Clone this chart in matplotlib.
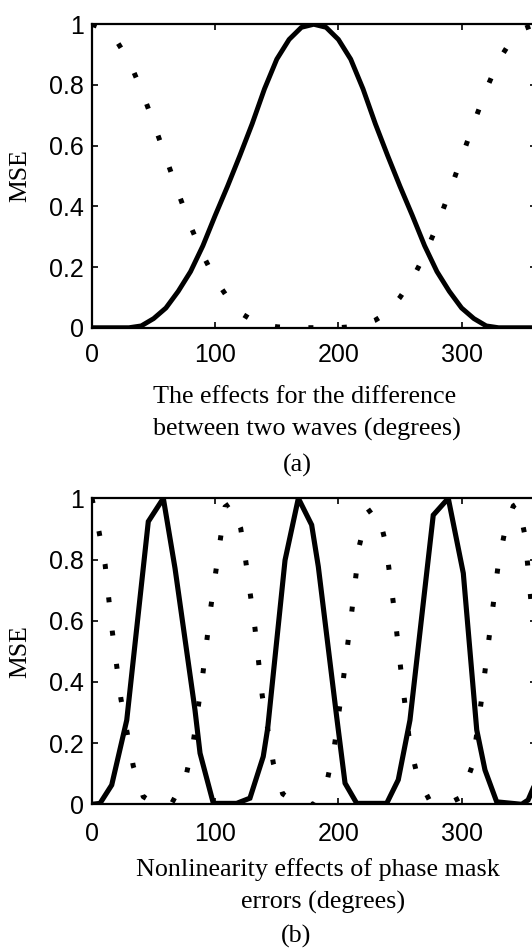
import matplotlib.pyplot as plt
from matplotlib.ticker import FixedLocator, FuncFormatter

# panel (a): difference between two waves, sampled every 10 degrees
deg_a = list(range(0, 361, 10))
solid_a = [0, 0, 0, 0, 0.006, 0.03, 0.065, 0.12, 0.185, 0.27, 0.37, 0.466, 0.567,
           0.672, 0.787, 0.885, 0.95, 0.99, 1.0, 0.99, 0.95, 0.885, 0.787, 0.672,
           0.567, 0.466, 0.37, 0.27, 0.185, 0.12, 0.065, 0.03, 0.006, 0, 0, 0, 0]
dotted_a = [1.0, 0.985, 0.945, 0.88, 0.785, 0.675, 0.56, 0.445, 0.335, 0.24, 0.16,
            0.10, 0.05, 0.025, 0.01, 0.003, 0, 0, 0, 0, 0, 0.003, 0.01, 0.025, 0.05,
            0.10, 0.16, 0.24, 0.335, 0.445, 0.56, 0.675, 0.785, 0.88, 0.945, 0.985, 1.0]

# panel (b): phase mask errors
deg_b_solid = [0, 6.5, 16, 28.2, 45.7, 57.9, 67.4, 83.6, 87.7, 98.5, 117.4, 128.2,
               139, 142.6, 156.7, 167.5, 178.3, 183.7, 198.6, 205.4, 214.9, 239.2,
               248.6, 258.1, 277, 289.2, 301.4, 312.3, 319, 328.5, 348.8, 354, 360]
solid_b = [0, 0.003, 0.063, 0.275, 0.924, 1.0, 0.771, 0.308, 0.167, 0.003, 0.003,
           0.02, 0.156, 0.248, 0.798, 1.0, 0.913, 0.777, 0.286, 0.069, 0.003, 0.003,
           0.08, 0.275, 0.945, 1.0, 0.755, 0.243, 0.112, 0.008, 0, 0.014, 0.07]
deg_b_dot = [0, 5.7, 10.6, 16.5, 23.5, 33.5, 41.6, 52, 64.7, 76.3, 82.2, 89.9, 96.3,
             103.9, 108, 112.5, 120.7, 124.8, 132.3, 138.2, 147.2, 154.8, 168, 180,
             191, 196.7, 204, 210.8, 217, 223.5, 227.5, 231.9, 238.4, 245.4, 251.4,
             258.1, 264.4, 275, 288, 299.5, 308.7, 316.3, 323, 329.8, 335.2, 342,
             346, 351.5, 354.7, 360]
dotted_b = [1.0, 0.891, 0.785, 0.564, 0.344, 0.125, 0.025, 0, 0.003, 0.092, 0.203,
            0.423, 0.64, 0.858, 0.972, 0.985, 0.902, 0.795, 0.575, 0.355, 0.134,
            0.034, 0, 0, 0.079, 0.188, 0.408, 0.627, 0.845, 0.953, 0.965, 0.96,
            0.853, 0.633, 0.414, 0.194, 0.088, 0.005, 0, 0.023, 0.126, 0.346, 0.567,
            0.785, 0.894, 0.975, 0.985, 0.877, 0.735, 0.5]

xticks = [0, 100, 200, 300]
yticks = [0, 0.2, 0.4, 0.6, 0.8, 1]

W, H = 532, 949
fig = plt.figure(figsize=(W / 100, H / 100), dpi=100)

def make_axes(top, bottom, xpad):
    ax = fig.add_axes([92 / W, 1 - bottom / H, (535.5 - 92) / W, (bottom - top) / H])
    ax.set_xlim(0, 360)
    ax.set_ylim(0, 1)
    ax.xaxis.set_major_locator(FixedLocator(xticks))
    ax.yaxis.set_major_locator(FixedLocator(yticks))
    ax.yaxis.set_major_formatter(FuncFormatter(lambda v, p: '%g' % v))
    ax.tick_params(direction='in', length=4, width=1.2, top=True, right=True,
                   labelsize=18)
    ax.tick_params(axis='x', pad=xpad)
    ax.tick_params(axis='y', pad=6)
    for lab in ax.get_xticklabels() + ax.get_yticklabels():
        lab.set_family('Liberation Sans')
    for s in ax.spines.values():
        s.set_linewidth(1.6)
    fig.text(20 / W, 1 - (top + bottom) / 2 / H, 'MSE', rotation=90,
             family='Liberation Serif', fontsize=18.5, ha='center', va='center')
    return ax

dots = (0, (1, 5.7))

ax1 = make_axes(24.3, 327.7, 11)
ax1.plot(deg_a, solid_a, color='black', lw=3.5, solid_joinstyle='round')
ax1.plot(deg_a, dotted_a, color='black', lw=3.6, linestyle=dots)

ax2 = make_axes(498.3, 804.3, 12.5)
ax2.plot(deg_b_solid, solid_b, color='black', lw=3.7, solid_joinstyle='miter')
ax2.plot(deg_b_dot, dotted_b, color='black', lw=3.6, linestyle=dots)

serif = dict(family='Liberation Serif', fontsize=18.8, ha='center', va='center')
fig.text(305 / W, 1 - 397 / H, 'The effects for the difference', **serif)
fig.text(307 / W, 1 - 429 / H, 'between two waves (degrees)', **serif)
fig.text(297 / W, 1 - 465 / H, '(a)', **serif)
fig.text(318 / W, 1 - 870 / H, 'Nonlinearity effects of phase mask', **serif)
fig.text(323 / W, 1 - 902 / H, 'errors (degrees)', **serif)
fig.text(296 / W, 1 - 936 / H, '(b)', **serif)

fig.savefig('out.png', dpi=100)
